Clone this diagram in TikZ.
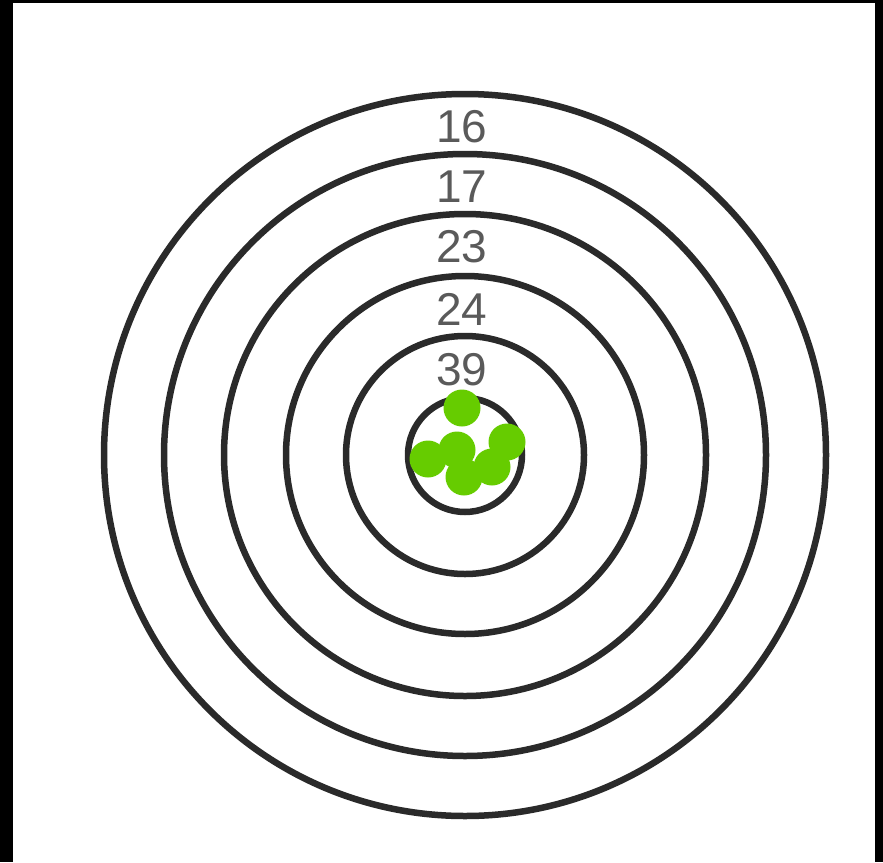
\documentclass[tikz,border=0pt]{standalone}
\usepackage{fontspec}
\setmainfont{Liberation Sans}
\definecolor{ringc}{HTML}{2A2A2A}
\definecolor{numc}{HTML}{5A5A5A}
\definecolor{dotc}{HTML}{66CC00}
\begin{document}
\begin{tikzpicture}[x=1pt,y=-1pt,
  ring/.style={draw=ringc,line width=6.5pt},
  num/.style={text=numc,font=\fontsize{46}{46}\selectfont,inner sep=0pt,anchor=center},
  hit/.style={fill=dotc,draw=none}]
\useasboundingbox (0,0) rectangle (883,862);
\fill[white] (0,0) rectangle (883,862);
\fill[black] (0,0) rectangle (13,862);
\fill[black] (875,0) rectangle (883,862);
\fill[black] (0,0) rectangle (883,3);
\coordinate (c) at (465,455);
\foreach \r in {361,301,241,179,119,57} \draw[ring] (c) circle[radius=\r];
\node[num] (n16) at (462,127) {16};
\node[num] (n17) at (462,187) {17};
\node[num] (n23) at (462,247) {23};
\node[num] (n24) at (462,309) {24};
\node[num] (n39) at (462,370) {39};
\fill[hit] (462,408) circle[radius=18.5];
\fill[hit] (428,459) circle[radius=18.5];
\fill[hit] (457,450) circle[radius=18.5];
\fill[hit] (507,442) circle[radius=18.5];
\fill[hit] (492,467) circle[radius=18.5];
\fill[hit] (464,477) circle[radius=18.5];
\end{tikzpicture}
\end{document}
